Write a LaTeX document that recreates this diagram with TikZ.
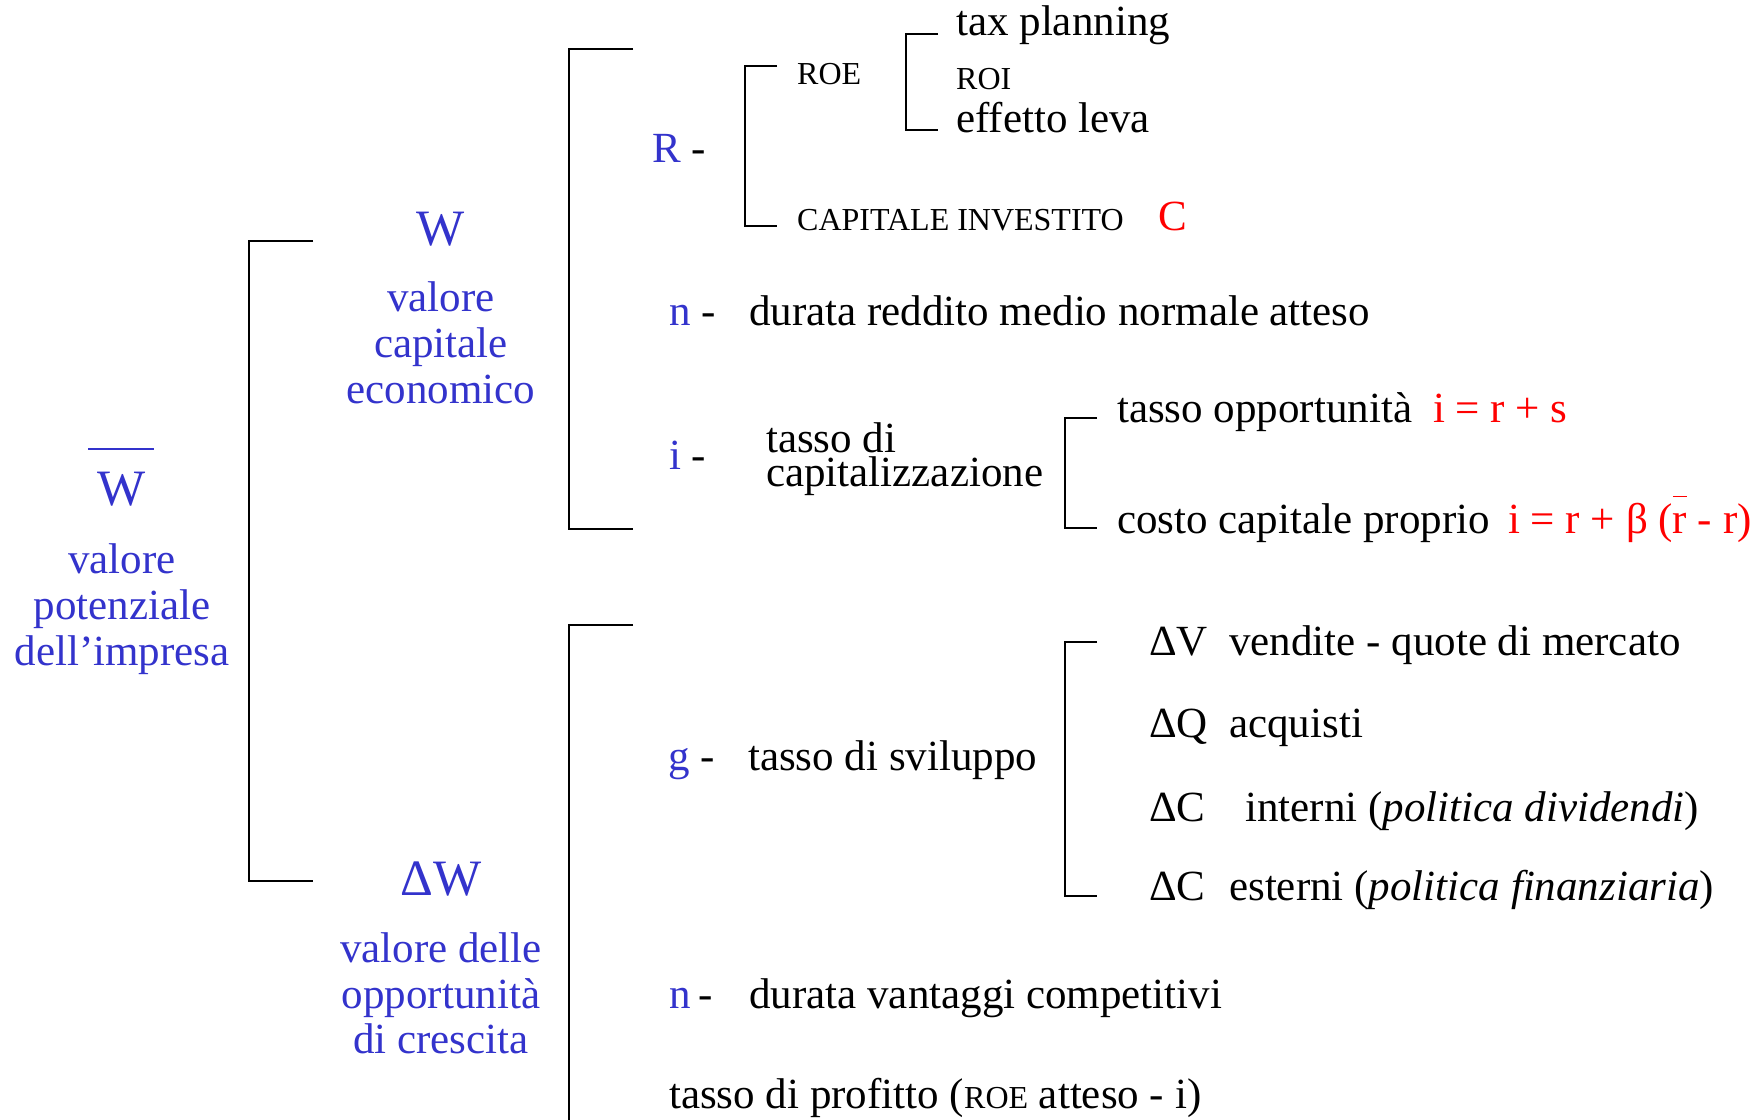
\documentclass[tikz,border=0pt]{standalone}
\usepackage{fontspec}
\setmainfont{Liberation Serif}
\definecolor{myblue}{RGB}{51,51,204}
\definecolor{myred}{RGB}{255,0,0}
\newcommand\myrbar{\leavevmode\rlap{\raisebox{0.83em}{\rule{0.32em}{1.6pt}}}r}
\begin{document}
\begin{tikzpicture}[x=1pt,y=-1pt,
  txt/.style={anchor=base west, inner sep=0pt, font=\fontsize{43}{46}\selectfont},
  sml/.style={anchor=base west, inner sep=0pt, font=\fontsize{32}{34}\selectfont},
  blu/.style={anchor=base, inner sep=0pt, text=myblue, font=\fontsize{43}{46}\selectfont},
  big/.style={anchor=base, inner sep=0pt, text=myblue, font=\fontsize{51}{54}\selectfont},
  br/.style={line width=2.2pt, black},
]
\useasboundingbox[fill=white] (0,0) rectangle (1760,1119);

% brackets
\draw[br] (313,241) -- (249,241) -- (249,881) -- (313,881);
\draw[br] (633,49) -- (569,49) -- (569,529) -- (633,529);
\draw[br] (633,625) -- (569,625) -- (569,1125);
\draw[br] (777,66) -- (745,66) -- (745,226) -- (777,226);
\draw[br] (938,34) -- (906,34) -- (906,130) -- (938,130);
\draw[br] (1097,418) -- (1065,418) -- (1065,528) -- (1097,528);
\draw[br] (1097,642) -- (1065,642) -- (1065,896) -- (1097,896);

% left label
\node[big] (Wl) at (122,505) {W};
\draw[myblue, line width=2pt] (88,449) -- (154,449);
\node[blu] (Wl1) at (122,573) {valore};
\node[blu] (Wl2) at (122,619) {potenziale};
\node[blu] (Wl3) at (122,665) {dell’impresa};

% W label
\node[big] (Wm) at (441,245) {W};
\node[blu] (Wm1) at (441,311) {valore};
\node[blu] (Wm2) at (441,357) {capitale};
\node[blu] (Wm3) at (441,403) {economico};

% Delta W label
\node[big] (DW) at (441,895) {ΔW};
\node[blu] (DW1) at (441,962) {valore delle};
\node[blu] (DW2) at (441,1008) {opportunità};
\node[blu] (DW3) at (441,1053) {di crescita};

% R row
\node[txt,text=myblue] (R) at (652,162) {R};
\node[txt] (Rd) at (691,162) {-};
\node[sml] (ROE) at (797,84) {ROE};
\node[txt] (tax) at (956,35) {tax planning};
\node[sml] (ROI) at (956,89) {ROI};
\node[txt] (lev) at (956,132) {effetto leva};
\node[sml] (cap) at (797,230) {CAPITALE INVESTITO};
\node[txt,text=myred] (C) at (1158,230) {C};

% n row
\node[txt,text=myblue] (n1) at (669,325) {n};
\node[txt] (n1d) at (701,325) {-};
\node[txt] (n1t) at (749,325) {durata reddito medio normale atteso};

% i row
\node[txt,text=myblue] (i) at (669,469) {i};
\node[txt] (id) at (691,469) {-};
\node[txt] (it1) at (766,452) {tasso di};
\node[txt] (it2) at (766,486) {capitalizzazione};
\node[txt] (opp) at (1117,422) {tasso opportunità};
\node[txt,text=myred] (f1) at (1433,422) {i = r + s};
\node[txt] (ccp) at (1117,533) {costo capitale proprio};
\node[txt,text=myred] (f2) at (1508,533) {i = r + β (\myrbar{} - r)};

% g row
\node[txt,text=myblue] (g) at (668,770) {g};
\node[txt] (gd) at (700,770) {-};
\node[txt] (gt) at (748,770) {tasso di sviluppo};
\node[txt] (dV) at (1149,655) {ΔV};
\node[txt] (dVt) at (1229,655) {vendite - quote di mercato};
\node[txt] (dQ) at (1149,737) {ΔQ};
\node[txt] (dQt) at (1229,737) {acquisti};
\node[txt] (dC1) at (1149,821) {ΔC};
\node[txt] (dC1t) at (1245,821) {interni (\textit{politica dividendi})};
\node[txt] (dC2) at (1149,900) {ΔC};
\node[txt] (dC2t) at (1229,900) {esterni (\textit{politica finanziaria})};

% n row 2
\node[txt,text=myblue] (n2) at (669,1008) {n};
\node[txt] (n2d) at (698,1008) {-};
\node[txt] (n2t) at (749,1008) {durata vantaggi competitivi};

% last row
\node[txt] (prof) at (669,1108) {tasso di profitto ({\fontsize{32}{34}\selectfont ROE} atteso - i)};
\end{tikzpicture}
\end{document}
